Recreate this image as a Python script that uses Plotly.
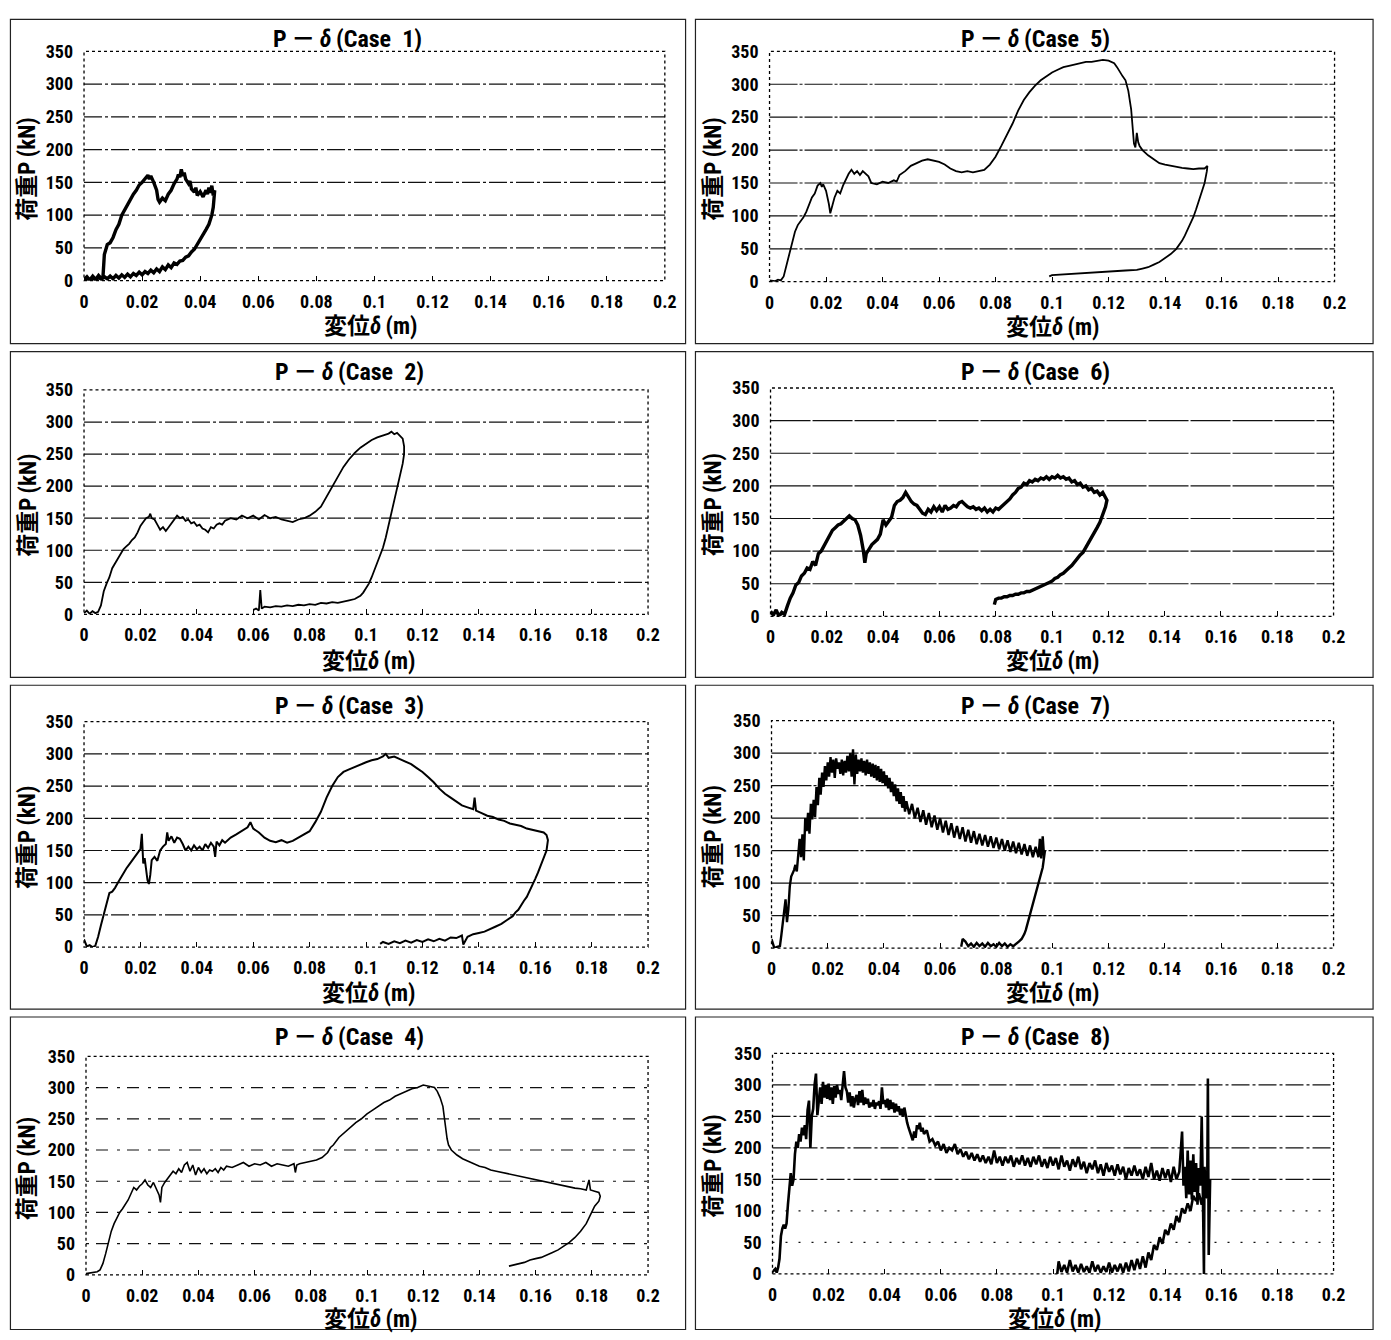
import plotly.graph_objects as go

W, H = 1391, 1340

# ---------------- data ----------------
x_ticks = [0, 0.02, 0.04, 0.06, 0.08, 0.1, 0.12, 0.14, 0.16, 0.18, 0.2]
x_tick_labels = ["0", "0.02", "0.04", "0.06", "0.08", "0.1", "0.12", "0.14", "0.16", "0.18", "0.2"]
y_ticks = [0, 50, 100, 150, 200, 250, 300, 350]
y_tick_labels = ["0", "50", "100", "150", "200", "250", "300", "350"]
grid_levels = [50, 100, 150, 200, 250, 300]
case_names = ["Case\u00a0\u00a01", "Case\u00a0\u00a02", "Case\u00a0\u00a03", "Case\u00a0\u00a04",
              "Case\u00a0\u00a05", "Case\u00a0\u00a06", "Case\u00a0\u00a07", "Case\u00a0\u00a08"]
x_title = "変位<i>δ</i>\u2009(m)"
y_title = "荷重P\u2009(kN)"

case1_x = [0, 0.001, 0.002, 0.003, 0.004, 0.005, 0.006, 0.0065, 0.007, 0.0075, 0.008, 0.009, 0.010, 0.011, 0.012,
           0.013, 0.014, 0.015, 0.016, 0.017, 0.018, 0.019, 0.020, 0.021, 0.022, 0.0225, 0.023, 0.024, 0.025, 0.0255,
           0.026, 0.027, 0.028, 0.029, 0.030, 0.031, 0.032, 0.0325, 0.033, 0.0335, 0.034, 0.0345, 0.035, 0.036,
           0.0365, 0.037, 0.038, 0.0385, 0.039, 0.040, 0.041, 0.042, 0.0425, 0.043, 0.0435, 0.044, 0.0445, 0.045,
           0.0448,
           0.0445, 0.044, 0.0435, 0.043, 0.042, 0.041, 0.040, 0.039, 0.038, 0.037, 0.036, 0.035, 0.034, 0.033,
           0.032, 0.031, 0.030, 0.029, 0.028, 0.027, 0.026, 0.025, 0.024, 0.023, 0.022, 0.021, 0.020, 0.019, 0.018,
           0.017, 0.016, 0.015, 0.014, 0.013, 0.012, 0.011, 0.010, 0.009, 0.008, 0.007, 0.006, 0.005, 0.004, 0.003,
           0.002, 0.001, 0.0]
case1_y = [2, 6, 1, 7, 2, 8, 3, 4, 40, 50, 55, 58, 66, 78, 86,
           100, 108, 118, 124, 132, 138, 146, 150, 156, 161, 155, 160, 150, 138, 124,
           120, 126, 122, 132, 138, 148, 155, 162, 158, 170, 160, 165, 155, 148,
           152, 140, 135, 142, 130, 136, 128, 138, 132, 142, 134, 145, 130, 138,
           120,
           112, 100, 94, 86, 78, 70, 62, 55, 48, 44, 38, 36, 31, 30,
           25, 27, 20, 24, 17, 21, 14, 18, 12, 16, 11, 14, 9, 13, 8,
           11, 6, 10, 5, 9, 4, 8, 3, 7, 3, 6, 2, 5, 1, 4,
           1, 3, 1]

case2_x = [0, 0.001, 0.002, 0.003, 0.004, 0.005, 0.006, 0.007, 0.008, 0.009, 0.010, 0.011, 0.012, 0.013, 0.014,
           0.015, 0.016, 0.017, 0.018, 0.019, 0.020, 0.021, 0.022, 0.023, 0.0235, 0.024, 0.025, 0.026, 0.027, 0.028,
           0.029, 0.030, 0.031, 0.032, 0.033, 0.034, 0.035, 0.036, 0.037, 0.038, 0.039, 0.040, 0.041, 0.042, 0.043,
           0.044, 0.045, 0.046, 0.047, 0.048, 0.049, 0.050, 0.052, 0.054, 0.056, 0.058, 0.060, 0.062, 0.064, 0.066,
           0.068, 0.070, 0.072, 0.074, 0.076, 0.078, 0.080, 0.082, 0.084, 0.086, 0.088, 0.090, 0.092, 0.094, 0.096,
           0.098, 0.100, 0.102, 0.104, 0.106, 0.108, 0.109, 0.110, 0.111, 0.112, 0.113, 0.1135, 0.1135,
           0.113, 0.112, 0.111, 0.110, 0.109, 0.108, 0.107, 0.106, 0.105, 0.104, 0.103, 0.102, 0.101, 0.100, 0.099,
           0.098, 0.097, 0.096, 0.094, 0.092, 0.090, 0.088, 0.086, 0.084, 0.082, 0.080, 0.078, 0.076, 0.074, 0.072,
           0.070, 0.068, 0.066, 0.064, 0.063, 0.0625, 0.0622, 0.062, 0.061, 0.060]
case2_y = [2, 6, 1, 5, 2, 4, 14, 36, 48, 58, 72, 80, 86, 96, 102,
           106, 110, 116, 120, 128, 138, 144, 150, 152, 157, 150, 148, 140, 132, 136,
           130, 136, 142, 148, 154, 150, 152, 146, 148, 142, 144, 138, 140, 134, 132,
           128, 136, 134, 140, 142, 140, 146, 150, 148, 154, 150, 154, 148, 155, 150,
           152, 148, 146, 144, 148, 150, 154, 160, 168, 184, 200, 216, 230, 242, 252,
           260, 266, 272, 276, 279, 282, 285, 281, 283, 279, 274, 262, 250,
           235, 215, 196, 176, 156, 138, 120, 104, 92, 80, 68, 58, 48, 40, 34,
           29, 27, 24, 22, 20, 18, 19, 17, 18, 15, 16, 14, 15, 13, 14,
           12, 13, 11, 12, 9, 38, 10, 6, 9, 7]

case3_x = [0, 0.0005, 0.001, 0.002, 0.003, 0.004, 0.005, 0.006, 0.007, 0.008, 0.009, 0.010, 0.011, 0.012, 0.013,
           0.014, 0.015, 0.016, 0.017, 0.018, 0.019, 0.020, 0.0205, 0.021, 0.0215, 0.022, 0.0225, 0.023, 0.0235,
           0.024, 0.025, 0.026, 0.027, 0.028, 0.029, 0.0295, 0.030, 0.031, 0.032, 0.033, 0.034, 0.035, 0.036, 0.037,
           0.038, 0.039, 0.040, 0.041, 0.042, 0.043, 0.044, 0.045, 0.046, 0.0465, 0.047, 0.048, 0.049, 0.050, 0.052,
           0.054, 0.056, 0.058, 0.059, 0.060, 0.062, 0.064, 0.066, 0.068, 0.070, 0.072, 0.074, 0.076, 0.078, 0.080,
           0.082, 0.084, 0.086, 0.088, 0.090, 0.092, 0.094, 0.096, 0.098, 0.100, 0.102, 0.104, 0.106, 0.107, 0.108,
           0.110, 0.112, 0.114, 0.116, 0.118, 0.120, 0.122, 0.124, 0.126, 0.128, 0.130, 0.132, 0.134, 0.136, 0.138,
           0.1385, 0.139, 0.141, 0.143, 0.145, 0.147, 0.149, 0.151, 0.153, 0.155, 0.157, 0.159, 0.161, 0.163, 0.164,
           0.1645,
           0.164, 0.163, 0.162, 0.161, 0.160, 0.159, 0.158, 0.157, 0.156, 0.155, 0.154, 0.153, 0.152, 0.150, 0.148,
           0.146, 0.144, 0.142, 0.140, 0.138, 0.136, 0.1345, 0.134, 0.132, 0.130, 0.128, 0.126, 0.124, 0.122, 0.120,
           0.118, 0.116, 0.114, 0.112, 0.110, 0.108, 0.106, 0.105]
case3_y = [12, 6, 1, 3, 0, 2, 16, 34, 50, 70, 84, 86, 92, 100, 108,
           116, 122, 128, 134, 140, 146, 152, 176, 130, 138, 118, 104, 98, 112,
           135, 140, 134, 150, 156, 160, 178, 165, 172, 162, 170, 168, 160, 150, 156,
           150, 158, 152, 156, 150, 160, 154, 162, 156, 140, 164, 158, 166, 162, 170,
           175, 180, 186, 194, 184, 178, 170, 165, 163, 166, 162, 165, 170, 174, 180,
           194, 210, 232, 250, 264, 272, 276, 280, 284, 287, 290, 292, 296, 300, 294,
           296, 292, 288, 284, 278, 272, 264, 256, 246, 238, 232, 226, 220, 217, 214,
           232, 212, 208, 204, 202, 198, 196, 192, 190, 188, 184, 182, 180, 178, 174,
           166,
           150, 138, 126, 116, 106, 96, 86, 78, 72, 64, 58, 54, 48, 42, 36,
           32, 28, 24, 22, 20, 16, 4, 18, 14, 15, 10, 13, 9, 12, 8,
           11, 7, 10, 6, 9, 5, 8, 5]

case4_x = [0, 0.002, 0.004, 0.005, 0.006, 0.007, 0.008, 0.009, 0.010, 0.011, 0.012, 0.013, 0.014, 0.015, 0.016,
           0.017, 0.018, 0.019, 0.020, 0.021, 0.022, 0.023, 0.024, 0.025, 0.026, 0.0265, 0.027, 0.028, 0.029, 0.030,
           0.031, 0.032, 0.033, 0.034, 0.035, 0.036, 0.037, 0.038, 0.039, 0.040, 0.041, 0.042, 0.043, 0.044, 0.045,
           0.046, 0.047, 0.048, 0.049, 0.050, 0.052, 0.054, 0.056, 0.058, 0.060, 0.062, 0.064, 0.066, 0.068, 0.070,
           0.072, 0.074, 0.0745, 0.075, 0.076, 0.078, 0.080, 0.082, 0.084, 0.086, 0.087, 0.088, 0.090, 0.092, 0.094,
           0.096, 0.098, 0.100, 0.102, 0.104, 0.106, 0.108, 0.110, 0.112, 0.114, 0.116, 0.118, 0.120, 0.122, 0.124,
           0.125, 0.126, 0.127, 0.1275, 0.128, 0.1285, 0.129, 0.130, 0.132, 0.134, 0.136, 0.138, 0.140, 0.142, 0.144,
           0.146, 0.148, 0.150, 0.152, 0.154, 0.156, 0.158, 0.160, 0.162, 0.164, 0.166, 0.168, 0.170, 0.172, 0.174,
           0.176, 0.178, 0.179, 0.1795, 0.181, 0.1825, 0.183,
           0.1825, 0.181, 0.180, 0.179, 0.178, 0.176, 0.174, 0.172, 0.170, 0.168, 0.166, 0.164, 0.162, 0.160, 0.158,
           0.156, 0.154, 0.152, 0.1505]
case4_y = [2, 4, 5, 8, 18, 34, 52, 70, 82, 92, 100, 106, 112, 120, 130,
           140, 136, 142, 146, 152, 144, 140, 148, 138, 128, 116, 140, 148, 154, 160,
           166, 162, 170, 164, 176, 180, 166, 176, 160, 172, 164, 170, 162, 168, 166,
           170, 164, 172, 168, 174, 172, 176, 180, 174, 178, 176, 180, 174, 178, 176,
           174, 178, 164, 176, 178, 180, 182, 184, 188, 196, 204, 208, 220, 228, 236,
           244, 250, 258, 264, 270, 276, 280, 286, 290, 294, 298, 300, 304, 302, 300,
           294, 284, 270, 250, 230, 218, 208, 200, 192, 186, 182, 178, 174, 172, 168,
           166, 164, 162, 160, 158, 156, 155, 152, 150, 148, 146, 144, 142, 140, 139,
           138, 136, 152, 136, 134, 132, 126,
           118, 110, 100, 90, 82, 70, 60, 52, 46, 40, 36, 32, 28, 26, 24,
           20, 18, 15, 14]

case5_x = [0, 0.002, 0.003, 0.004, 0.005, 0.006, 0.007, 0.008, 0.009, 0.010, 0.011, 0.012, 0.013, 0.014, 0.015,
           0.016, 0.017, 0.018, 0.0185, 0.019, 0.020, 0.021, 0.0215, 0.022, 0.023, 0.024, 0.025, 0.026, 0.027, 0.028,
           0.029, 0.030, 0.031, 0.032, 0.033, 0.034, 0.035, 0.036, 0.038, 0.040, 0.042, 0.044, 0.045, 0.046, 0.048,
           0.050, 0.052, 0.054, 0.056, 0.058, 0.060, 0.062, 0.064, 0.066, 0.068, 0.070, 0.072, 0.074, 0.076, 0.078,
           0.080, 0.082, 0.084, 0.086, 0.088, 0.090, 0.092, 0.094, 0.096, 0.098, 0.100, 0.102, 0.104, 0.106, 0.108,
           0.110, 0.112, 0.114, 0.116, 0.118, 0.120, 0.122, 0.123, 0.124, 0.125, 0.126, 0.127, 0.128, 0.1285, 0.129,
           0.1295, 0.130, 0.1305, 0.131, 0.132, 0.134, 0.136, 0.138, 0.140, 0.142, 0.144, 0.146, 0.148, 0.150, 0.152,
           0.154, 0.155, 0.1548,
           0.154, 0.153, 0.152, 0.151, 0.150, 0.149, 0.148, 0.147, 0.146, 0.145, 0.144, 0.142, 0.140, 0.138, 0.136,
           0.134, 0.132, 0.130, 0.126, 0.122, 0.118, 0.114, 0.110, 0.106, 0.102, 0.100, 0.099]
case5_y = [2, 1, 3, 2, 8, 24, 44, 60, 76, 86, 92, 98, 106, 118, 128,
           134, 146, 150, 144, 148, 138, 118, 104, 112, 128, 138, 134, 146, 156, 164,
           170, 164, 168, 162, 168, 164, 160, 150, 148, 152, 150, 154, 152, 162, 168,
           176, 180, 184, 186, 184, 182, 178, 172, 168, 166, 168, 166, 168, 170, 178,
           190, 206, 222, 240, 260, 276, 288, 298, 306, 312, 318, 322, 326, 328, 330,
           332, 334, 334, 336, 337, 336, 332, 326, 318, 312, 306, 290, 262, 236, 210,
           204, 226, 212, 206, 200, 192, 186, 180, 178, 176, 174, 173, 172, 171, 172,
           172, 176, 168,
           150, 136, 124, 110, 98, 88, 78, 70, 62, 56, 50, 42, 36, 30, 26,
           22, 20, 18, 17, 16, 15, 14, 13, 12, 11, 10, 8]

case6_x = [0, 0.001, 0.002, 0.003, 0.004, 0.005, 0.006, 0.007, 0.008, 0.009, 0.010, 0.011, 0.012, 0.013, 0.014,
           0.015, 0.016, 0.017, 0.018, 0.019, 0.020, 0.021, 0.022, 0.023, 0.024, 0.025, 0.026, 0.027, 0.028, 0.029,
           0.030, 0.031, 0.032, 0.033, 0.0335, 0.034, 0.035, 0.036, 0.037, 0.038, 0.039, 0.040, 0.041, 0.042, 0.043,
           0.044, 0.045, 0.046, 0.047, 0.048, 0.049, 0.050, 0.051, 0.052, 0.053, 0.054, 0.055, 0.056, 0.057, 0.058,
           0.059, 0.060, 0.061, 0.062, 0.063, 0.064, 0.065, 0.066, 0.067, 0.068, 0.069, 0.070, 0.071, 0.072, 0.073,
           0.074, 0.075, 0.076, 0.077, 0.078, 0.079, 0.080, 0.081, 0.082, 0.083, 0.084, 0.085, 0.086, 0.087, 0.088,
           0.089, 0.090, 0.091, 0.092, 0.093, 0.094, 0.095, 0.096, 0.097, 0.098, 0.099, 0.100, 0.101, 0.102, 0.103,
           0.104, 0.105, 0.106, 0.107, 0.108, 0.109, 0.110, 0.111, 0.112, 0.113, 0.114, 0.115, 0.116, 0.117, 0.118,
           0.119, 0.1195,
           0.119, 0.118, 0.117, 0.116, 0.115, 0.114, 0.113, 0.112, 0.111, 0.110, 0.109, 0.108, 0.107, 0.106, 0.105,
           0.104, 0.103, 0.102, 0.101, 0.100, 0.099, 0.098, 0.097, 0.096, 0.095, 0.094, 0.093, 0.092, 0.091, 0.090,
           0.089, 0.088, 0.087, 0.086, 0.085, 0.084, 0.083, 0.082, 0.081, 0.080, 0.0795]
case6_y = [8, 2, 10, 0, 6, 3, 16, 28, 36, 48, 52, 62, 66, 74, 72,
           84, 78, 96, 100, 108, 116, 126, 132, 136, 140, 142, 146, 150, 154, 150,
           148, 140, 124, 100, 82, 96, 104, 110, 114, 118, 126, 148, 140, 146, 152,
           170, 176, 178, 182, 190, 182, 176, 172, 170, 164, 158, 156, 164, 160, 168,
           162, 168, 160, 170, 164, 166, 170, 168, 174, 176, 172, 168, 166, 168, 164,
           166, 162, 166, 160, 164, 160, 166, 164, 168, 172, 176, 180, 186, 190, 196,
           198, 204, 202, 208, 206, 210, 208, 212, 210, 214, 210, 214, 212, 216, 212,
           214, 210, 212, 206, 208, 202, 204, 198, 200, 194, 196, 190, 192, 186, 190,
           182, 178,
           168, 156, 144, 136, 128, 120, 112, 106, 98, 94, 88, 84, 78, 74, 70,
           66, 64, 60, 58, 54, 52, 50, 48, 46, 44, 42, 40, 38, 38, 36,
           36, 34, 34, 32, 32, 30, 30, 28, 28, 26, 18]

case7_x = [0, 0.0005, 0.001, 0.002, 0.003, 0.0035, 0.004, 0.0045, 0.005, 0.0055, 0.006, 0.0065, 0.007, 0.008,
           0.0085, 0.009, 0.0095, 0.010, 0.0105, 0.011, 0.0115, 0.012, 0.0125, 0.013, 0.0135, 0.014, 0.0145, 0.015,
           0.0155, 0.016, 0.0165, 0.017, 0.0175, 0.018, 0.0185, 0.019, 0.0195, 0.020, 0.0205, 0.021, 0.0215, 0.022,
           0.0225, 0.023, 0.0235, 0.024, 0.0245, 0.025, 0.0255, 0.026, 0.0265, 0.027, 0.0275, 0.028, 0.0285, 0.029,
           0.0295, 0.030, 0.0305, 0.031, 0.0315, 0.032, 0.0325, 0.033, 0.0335, 0.034, 0.0345, 0.035, 0.0355, 0.036,
           0.0365, 0.037, 0.0375, 0.038, 0.0385, 0.039, 0.0395, 0.040, 0.0405, 0.041, 0.0415, 0.042, 0.0425, 0.043,
           0.0435, 0.044, 0.0445, 0.045, 0.0455, 0.046, 0.0465, 0.047, 0.0475, 0.048, 0.049, 0.050, 0.051, 0.052,
           0.053, 0.054, 0.055, 0.056, 0.057, 0.058, 0.059, 0.060, 0.061, 0.062, 0.063, 0.064, 0.065, 0.066, 0.067,
           0.068, 0.069, 0.070, 0.071, 0.072, 0.073, 0.074, 0.075, 0.076, 0.077, 0.078, 0.079, 0.080, 0.081, 0.082,
           0.083, 0.084, 0.085, 0.086, 0.087, 0.088, 0.089, 0.090, 0.091, 0.092, 0.093, 0.094, 0.095, 0.0955, 0.096,
           0.0965, 0.097, 0.0973,
           0.097, 0.0965, 0.096, 0.0955, 0.095, 0.0945, 0.094, 0.0935, 0.093, 0.0925, 0.092, 0.0915, 0.091, 0.0905,
           0.090, 0.0895, 0.089, 0.088, 0.087, 0.086, 0.085, 0.084, 0.083, 0.082, 0.081, 0.080, 0.079, 0.078, 0.077,
           0.076, 0.075, 0.074, 0.073, 0.072, 0.071, 0.070, 0.069, 0.068, 0.0675]
case7_y = [14, 6, 0, 2, 3, 20, 40, 60, 75, 40, 60, 95, 110, 120,
           128, 118, 150, 168, 140, 175, 135, 200, 180, 208, 176, 222, 198, 228,
           202, 248, 220, 262, 236, 270, 248, 280, 258, 286, 264, 294, 270, 290,
           262, 292, 276, 286, 268, 290, 266, 288, 270, 296, 272, 300, 264, 306,
           252, 298, 268, 290, 272, 292, 270, 288, 266, 290, 268, 286, 264, 284,
           262, 282, 258, 280, 256, 276, 254, 272, 250, 266, 246, 262, 240, 256,
           234, 252, 226, 246, 222, 240, 216, 234, 210, 226, 206, 222, 200, 216,
           194, 212, 190, 208, 186, 204, 182, 200, 178, 196, 174, 192, 170, 188, 168,
           186, 164, 182, 162, 180, 160, 176, 158, 174, 156, 172, 154, 170, 152, 168,
           150, 166, 148, 164, 146, 162, 144, 160, 142, 158, 140, 156, 140, 168, 138,
           172, 140, 150,
           132, 124, 116, 108, 100, 90, 80, 72, 64, 56, 48, 40, 34, 28,
           22, 18, 14, 10, 6, 3, 6, 2, 7, 3, 8, 2, 6, 3, 8,
           2, 7, 3, 8, 2, 7, 3, 10, 14, 2]

case8_x = [0, 0.001, 0.0015, 0.002, 0.0025, 0.003, 0.0035, 0.004, 0.0045, 0.005, 0.0055, 0.006, 0.0065, 0.007,
           0.0075, 0.008, 0.0085, 0.009, 0.0095, 0.010, 0.0105, 0.011, 0.0115, 0.012, 0.0125, 0.013, 0.0135, 0.014,
           0.0145, 0.015, 0.0155, 0.016, 0.0165, 0.017, 0.0175, 0.018, 0.0185, 0.019, 0.0195, 0.020, 0.0205, 0.021,
           0.0215, 0.022, 0.0225, 0.023, 0.0235, 0.024, 0.0245, 0.025, 0.0255, 0.026, 0.0265, 0.027, 0.0275, 0.028,
           0.0285, 0.029, 0.0295, 0.030, 0.0305, 0.031, 0.0315, 0.032, 0.0325, 0.033, 0.0335, 0.034, 0.0345, 0.035,
           0.0355, 0.036, 0.0365, 0.037, 0.0375, 0.038, 0.0385, 0.039, 0.0395, 0.040, 0.0405, 0.041, 0.0415, 0.042,
           0.0425, 0.043, 0.0435, 0.044, 0.0445, 0.045, 0.0455, 0.046, 0.0465, 0.047, 0.0475, 0.048, 0.0485, 0.049,
           0.0495, 0.050, 0.0505, 0.051, 0.0515, 0.052, 0.0525, 0.053, 0.0535, 0.054, 0.055, 0.056, 0.057, 0.058,
           0.059, 0.060, 0.061, 0.062, 0.063, 0.064, 0.065, 0.066, 0.067, 0.068, 0.069, 0.070, 0.071, 0.072, 0.073,
           0.074, 0.075, 0.076, 0.077, 0.078, 0.079, 0.080, 0.081, 0.082, 0.083, 0.084, 0.085, 0.086, 0.087, 0.088,
           0.089, 0.090, 0.091, 0.092, 0.093, 0.094, 0.095, 0.096, 0.097, 0.098, 0.099, 0.100, 0.101, 0.102, 0.103,
           0.104, 0.105, 0.106, 0.107, 0.108, 0.109, 0.110, 0.111, 0.112, 0.113, 0.114, 0.115, 0.116, 0.117, 0.118,
           0.119, 0.120, 0.121, 0.122, 0.123, 0.124, 0.125, 0.126, 0.127, 0.128, 0.129, 0.130, 0.131, 0.132, 0.133,
           0.134, 0.135, 0.136, 0.137, 0.138, 0.139, 0.140, 0.141, 0.142, 0.143, 0.144, 0.145, 0.146, 0.1465, 0.147,
           0.1475, 0.148, 0.1485, 0.149, 0.1495, 0.150, 0.1505, 0.151, 0.1515, 0.152, 0.1525, 0.153, 0.1535, 0.1538,
           0.154, 0.1545, 0.155, 0.1552, 0.1555, 0.156, 0.1558,
           0.155, 0.154, 0.153, 0.152, 0.151, 0.150, 0.149, 0.148, 0.147, 0.146, 0.145, 0.144, 0.143, 0.142, 0.141,
           0.140, 0.139, 0.138, 0.137, 0.136, 0.135, 0.134, 0.133, 0.132, 0.131, 0.130, 0.129, 0.128, 0.127, 0.126,
           0.125, 0.124, 0.123, 0.122, 0.121, 0.120, 0.119, 0.118, 0.117, 0.116, 0.115, 0.114, 0.113, 0.112, 0.111,
           0.110, 0.109, 0.108, 0.107, 0.106, 0.105, 0.104, 0.103, 0.102, 0.1015]
case8_y = [3, 8, 2, 10, 24, 60, 72, 78, 72, 80, 110, 130, 160, 140,
           150, 190, 210, 200, 222, 210, 232, 220, 236, 214, 260, 275, 200, 250,
           262, 300, 318, 252, 282, 296, 270, 305, 280, 300, 278, 302, 276, 296,
           270, 298, 280, 300, 286, 292, 276, 300, 322, 296, 290, 272, 288, 266,
           282, 264, 278, 284, 268, 290, 272, 292, 268, 280, 270, 278, 264, 272,
           266, 276, 262, 272, 268, 274, 262, 296, 270, 276, 264, 278, 260, 276,
           262, 272, 256, 270, 258, 266, 252, 262, 250, 264, 250, 240, 232, 224,
           218, 212, 226, 216, 236, 230, 240, 226, 232, 222, 228, 210, 214, 204,
           210, 196, 206, 192, 200, 196, 206, 190, 198, 186, 194, 182, 192, 180, 190,
           178, 188, 176, 186, 174, 196, 176, 186, 172, 186, 176, 188, 170, 184, 174,
           188, 172, 184, 170, 186, 174, 188, 170, 182, 168, 186, 172, 184, 166, 188,
           170, 180, 164, 182, 170, 186, 166, 178, 160, 176, 166, 180, 160, 174, 156,
           176, 162, 172, 156, 174, 158, 170, 150, 168, 156, 172, 156, 166, 150, 170,
           154, 176, 150, 164, 148, 168, 152, 166, 146, 170, 150, 162, 226, 140, 170,
           120, 196, 126, 180, 118, 190, 130, 176, 110, 168, 140, 250, 100, 0,
           170, 120, 160, 310, 30, 150, 130,
           120, 140, 110, 128, 116, 124, 100, 112, 96, 104, 82, 92, 70, 80, 62,
           70, 48, 58, 38, 46, 22, 34, 10, 28, 8, 24, 6, 22, 4, 18,
           2, 16, 4, 14, 2, 18, 3, 12, 2, 14, 4, 20, 2, 12, 3,
           16, 2, 14, 4, 22, 2, 14, 3, 20, 0]

# ---------------- layout (page pixel positions) ----------------
plot_boxes = [(80, 668, 41, 274), (80, 651, 385, 613), (80, 651, 722, 951), (82, 651, 1062, 1284),
              (774, 1346, 41, 275), (775, 1345, 383, 615), (776, 1345, 721, 952), (777, 1345, 1059, 1283)]
panel_boxes = [(5.5, 689, 8.5, 338), (5.5, 689, 346, 677), (5.5, 689, 685, 1014), (5.5, 689, 1022, 1339.5),
               (699, 1385, 8.5, 338), (699, 1385, 346, 677), (699, 1385, 685, 1014), (699, 1385, 1022, 1339.5)]
title_pos = [(347, 28), (349, 367), (349, 706), (349, 1042), (1043, 28), (1043, 367), (1043, 706), (1043, 1042)]
xtitle_pos = [(370, 321), (368, 661), (368, 998), (370, 1329), (1060, 322), (1060, 661), (1060, 998), (1062, 1329)]
ytitle_x = [23, 23, 23, 23, 717, 717, 717, 717]
line_widths = [3.4, 1.8, 2.0, 1.6, 1.8, 3.4, 2.4, 2.6]
grid_dash = ["18px,3px,3px,3px", "18px,3px,3px,3px", "18px,3px,3px,3px", "3px,7px,12px,9px",
             "28px,2px,3px,2px", "40px,2px", "40px,2px,3px,2px", "18px,3px,3px,3px"]
grid_dash_override = {(7, 50): "2px,11px", (7, 100): "2px,11px"}

xs_all = [case1_x, case2_x, case3_x, case4_x, case5_x, case6_x, case7_x, case8_x]
ys_all = [case1_y, case2_y, case3_y, case4_y, case5_y, case6_y, case7_y, case8_y]


def px(v):
    return v / W


def py(v):
    return 1 - v / H


NARROW = "Liberation Sans Narrow, Roboto Condensed, Noto Sans CJK JP, Liberation Mono, sans-serif"
TICK_FONT = dict(family=NARROW, size=18, color="black", weight="bold")
TEXT_FONT = dict(family=NARROW, size=24, color="black", weight="bold")
AX_FONT = dict(family=NARROW, size=23, color="black", weight="bold")

fig = go.Figure()
layout = dict(width=W, height=H, margin=dict(l=0, r=0, t=0, b=0, pad=0), paper_bgcolor="white",
              plot_bgcolor="white", showlegend=False)
shapes = []
annotations = []

for i in range(8):
    sfx = "" if i == 0 else str(i + 1)
    L, R, T, B = plot_boxes[i]
    fig.add_trace(go.Scatter(x=xs_all[i], y=ys_all[i], mode="lines",
                             line=dict(color="black", width=line_widths[i]),
                             xaxis="x" + sfx, yaxis="y" + sfx, hoverinfo="skip"))
    layout["xaxis" + sfx] = dict(domain=[px(L), px(R)], range=[0, 0.2], anchor="y" + sfx,
                                 tickmode="array", tickvals=x_ticks, ticktext=x_tick_labels,
                                 showgrid=False, zeroline=False, showline=False,
                                 ticks="inside", ticklen=5, tickwidth=1, tickcolor="black",
                                 tickfont=TICK_FONT, ticklabelstandoff=8, fixedrange=True)
    layout["yaxis" + sfx] = dict(domain=[py(B), py(T)], range=[0, 350], anchor="x" + sfx,
                                 tickmode="array", tickvals=y_ticks, ticktext=y_tick_labels,
                                 showgrid=False, zeroline=False, showline=False, ticks="",
                                 tickfont=TICK_FONT, ticklabelstandoff=10, fixedrange=True)
    xr, yr = "x" + sfx, "y" + sfx
    for g in grid_levels:
        dash = grid_dash_override.get((i, g), grid_dash[i])
        shapes.append(dict(type="line", xref=xr + " domain", yref=yr, x0=0, x1=1, y0=g, y1=g,
                           line=dict(color="#111", width=1.2, dash=dash), layer="below"))
    shapes.append(dict(type="rect", xref=xr + " domain", yref=yr + " domain", x0=0, x1=1, y0=0, y1=1,
                       line=dict(color="black", width=1.3, dash="dot"), layer="below"))
    pl, pr, pt, pb = panel_boxes[i]
    shapes.append(dict(type="rect", xref="paper", yref="paper", x0=px(pl), x1=px(pr),
                       y0=py(pb), y1=py(pt), line=dict(color="#222", width=1.2)))
    tx, ty = title_pos[i]
    annotations.append(dict(text="P\u2009－\u2009<i>δ</i>\u2009(" + case_names[i] + ")",
                            x=px(tx), y=py(ty), xref="paper", yref="paper",
                            xanchor="center", yanchor="middle", showarrow=False, font=TEXT_FONT))
    ax_, ay_ = xtitle_pos[i]
    annotations.append(dict(text=x_title, x=px(ax_), y=py(ay_), xref="paper", yref="paper",
                            xanchor="center", yanchor="middle", showarrow=False, font=AX_FONT))
    annotations.append(dict(text=y_title, x=px(ytitle_x[i]), y=py((T + B) / 2 + 3), xref="paper",
                            yref="paper", xanchor="center", yanchor="middle", showarrow=False,
                            textangle=-90, font=AX_FONT))

layout["shapes"] = shapes
layout["annotations"] = annotations
fig.update_layout(**layout)

pin_page = ("document.documentElement.style.margin='0';document.body.style.margin='0';"
            "document.documentElement.style.overflow='hidden';document.body.style.overflow='hidden';"
            "var d=document.getElementById('{plot_id}');d.style.position='fixed';"
            "d.style.left='0px';d.style.top='0px';")
fig.write_html("out.html", config={"displayModeBar": False, "responsive": False}, post_script=pin_page)
